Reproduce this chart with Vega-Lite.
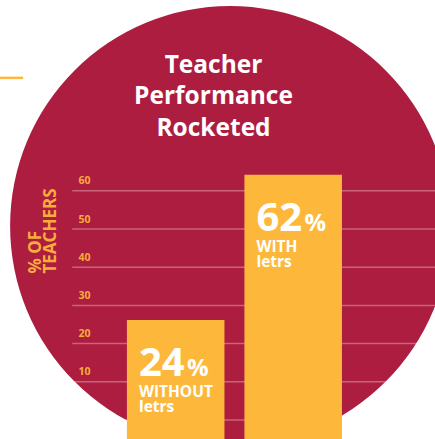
{
  "$schema": "https://vega.github.io/schema/vega-lite/v6.json",
  "width": 435,
  "height": 439,
  "autosize": {"type": "none"},
  "padding": 0,
  "background": "white",
  "config": {"view": {"stroke": null}},
  "title": {
    "text": ["Teacher", "Performance", "Rocketed"],
    "color": "white",
    "font": "Open Sans",
    "fontWeight": "bold",
    "fontSize": 24.5,
    "lineHeight": 31.5,
    "anchor": "middle",
    "frame": "group",
    "baseline": "alphabetic",
    "offset": -160,
    "dx": -4
  },
  "datasets": {
    "bars": [
      {"group": "WITHOUT", "value": 24, "num": "24", "label": "WITHOUT\nletrs"},
      {"group": "WITH", "value": 62, "num": "62", "label": "WITH\nletrs"}
    ],
    "grid": [{"v": 0}, {"v": 10}, {"v": 20}, {"v": 30}, {"v": 40}, {"v": 50}, {"v": 60}],
    "one": [{"item": "backdrop"}]
  },
  "layer": [
    {
      "layer": [
        {
          "data": {"name": "one"},
          "mark": {"type": "point", "shape": "circle", "filled": true, "size": 193600, "color": "#AD1D3F", "opacity": 1, "strokeWidth": 0},
          "encoding": {
            "x": {"datum": 52.9, "type": "quantitative", "scale": {"domain": [0, 100], "nice": false, "zero": false}, "axis": null},
            "y": {"datum": 50.8, "type": "quantitative", "scale": {"domain": [-5, 110], "nice": false, "zero": false}}
          }
        },
        {
          "data": {"name": "one"},
          "mark": {"type": "rule", "color": "#FBB83A", "strokeWidth": 2.5},
          "encoding": {
            "x": {"datum": 0, "type": "quantitative"},
            "x2": {"datum": 5.3},
            "y": {"datum": 89.6, "type": "quantitative"}
          }
        },
        {
          "data": {"name": "grid"},
          "mark": {"type": "rule", "color": "white", "opacity": 0.32, "strokeWidth": 1.5},
          "encoding": {
            "y": {
              "field": "v",
              "type": "quantitative",
              "axis": {
                "values": [10, 20, 30, 40, 50, 60],
                "zindex": 1,
                "domain": false,
                "ticks": false,
                "grid": false,
                "labelAlign": "left",
                "labelBaseline": "alphabetic",
                "labelPadding": -78,
                "labelOffset": -7,
                "labelColor": "#F7AC3C",
                "labelFont": "Open Sans",
                "labelFontWeight": "bold",
                "labelFontSize": 10.5,
                "title": ["% OF", "TEACHERS"],
                "titleColor": "#F7AC3C",
                "titleFont": "Open Sans",
                "titleFontWeight": "bold",
                "titleFontSize": 17,
                "titleAngle": -90,
                "titleAlign": "left",
                "titleBaseline": "alphabetic",
                "titleX": 40,
                "titleY": 273,
                "titleLineHeight": 15.7
              }
            },
            "x": {"datum": 16.6, "type": "quantitative"},
            "x2": {"datum": 100}
          }
        }
      ]
    },
    {
      "data": {"name": "bars"},
      "encoding": {
        "x": {
          "field": "group",
          "type": "nominal",
          "scale": {"type": "band", "domain": ["WITHOUT", "WITH"], "paddingInner": 0.17, "paddingOuter": 0.936, "align": 0.577},
          "axis": null
        },
        "y": {
          "field": "value",
          "type": "quantitative",
          "scale": {"domain": [-7.2, 107.8], "nice": false, "zero": false},
          "axis": null
        }
      },
      "layer": [
        {
          "mark": {"type": "bar", "color": "#FDB83B"},
          "encoding": {"y2": {"datum": -7.2}}
        },
        {
          "mark": {"type": "text", "color": "white", "font": "Open Sans", "fontWeight": "bold", "fontSize": 40, "align": "left", "baseline": "alphabetic", "dx": 12, "dy": 56},
          "encoding": {
            "x": {"field": "group", "type": "nominal", "bandPosition": 0},
            "text": {"field": "num"}
          }
        },
        {
          "mark": {"type": "text", "text": "%", "color": "white", "font": "Open Sans", "fontWeight": "bold", "fontSize": 24, "align": "left", "baseline": "alphabetic", "dx": 60, "dy": 56},
          "encoding": {
            "x": {"field": "group", "type": "nominal", "bandPosition": 0}
          }
        },
        {
          "mark": {"type": "text", "color": "white", "font": "Open Sans", "fontWeight": "bold", "fontSize": 15.5, "lineHeight": 15.5, "lineBreak": "\n", "align": "left", "baseline": "alphabetic", "dx": 12, "dy": 77},
          "encoding": {
            "x": {"field": "group", "type": "nominal", "bandPosition": 0},
            "text": {"field": "label"}
          }
        }
      ]
    }
  ],
  "resolve": {"scale": {"x": "independent", "y": "independent"}}
}
